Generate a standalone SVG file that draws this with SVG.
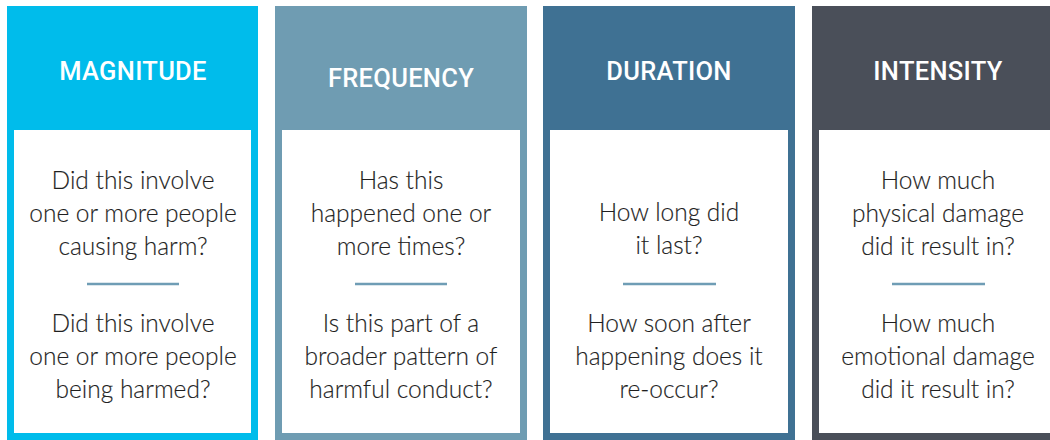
<svg xmlns="http://www.w3.org/2000/svg" width="1050" height="440" viewBox="0 0 1050 440">
  <style>
    .title { font-family: Roboto, "Liberation Sans", sans-serif; font-weight: 500; font-size: 25.5px; fill: #ffffff; text-anchor: middle; letter-spacing: 0.3px; }
    .body { font-family: Lato, "Liberation Sans", sans-serif; font-weight: 300; font-size: 24.5px; fill: #1f1f1f; text-anchor: middle; stroke: #1f1f1f; stroke-width: 0.15px; }
    .inner { fill: #ffffff; }
    .div { stroke: #6f9db5; stroke-width: 2.5; }
  </style>
  <rect width="1050" height="440" fill="#ffffff"/>
  <g id="magnitude">
    <rect x="7" y="6" width="251" height="434" fill="#00bceb"/>
    <rect class="inner" x="14" y="130" width="237" height="303"/>
    <text class="title" x="133" y="80">MAGNITUDE</text>
    <text class="body" x="133" y="189">Did this involve</text>
    <text class="body" x="133" y="222">one or more people</text>
    <text class="body" x="133" y="255">causing harm?</text>
    <text class="body" x="133" y="332">Did this involve</text>
    <text class="body" x="133" y="365">one or more people</text>
    <text class="body" x="133" y="398">being harmed?</text>
  </g>
  <g id="frequency">
    <rect x="275" y="6" width="252" height="434" fill="#6f9cb2"/>
    <rect class="inner" x="282" y="130" width="238" height="303"/>
    <text class="title" x="401" y="87">FREQUENCY</text>
    <text class="body" x="401" y="189">Has this</text>
    <text class="body" x="401" y="222">happened one or</text>
    <text class="body" x="401" y="255">more times?</text>
    <text class="body" x="401" y="332">Is this part of a</text>
    <text class="body" x="401" y="365">broader pattern of</text>
    <text class="body" x="401" y="398">harmful conduct?</text>
  </g>
  <g id="duration">
    <rect x="543" y="6" width="252" height="434" fill="#3f7193"/>
    <rect class="inner" x="550" y="130" width="238" height="303"/>
    <text class="title" x="669" y="80">DURATION</text>
    <text class="body" x="669" y="221">How long did</text>
    <text class="body" x="669" y="254">it last?</text>
    <text class="body" x="669" y="332">How soon after</text>
    <text class="body" x="669" y="365">happening does it</text>
    <text class="body" x="669" y="398">re-occur?</text>
  </g>
  <g id="intensity">
    <rect x="812" y="6" width="252" height="434" fill="#4a4f59"/>
    <rect class="inner" x="819" y="130" width="238" height="303"/>
    <text class="title" x="938" y="80">INTENSITY</text>
    <text class="body" x="938" y="189">How much</text>
    <text class="body" x="938" y="222">physical damage</text>
    <text class="body" x="938" y="255">did it result in?</text>
    <text class="body" x="938" y="332">How much</text>
    <text class="body" x="938" y="365">emotional damage</text>
    <text class="body" x="938" y="398">did it result in?</text>
  </g>
  <g id="connectors">
    <line class="div" x1="87" y1="284" x2="179" y2="284"/>
    <line class="div" x1="355" y1="284" x2="447" y2="284"/>
    <line class="div" x1="623" y1="284" x2="716" y2="284"/>
    <line class="div" x1="892" y1="284" x2="985" y2="284"/>
  </g>
</svg>
